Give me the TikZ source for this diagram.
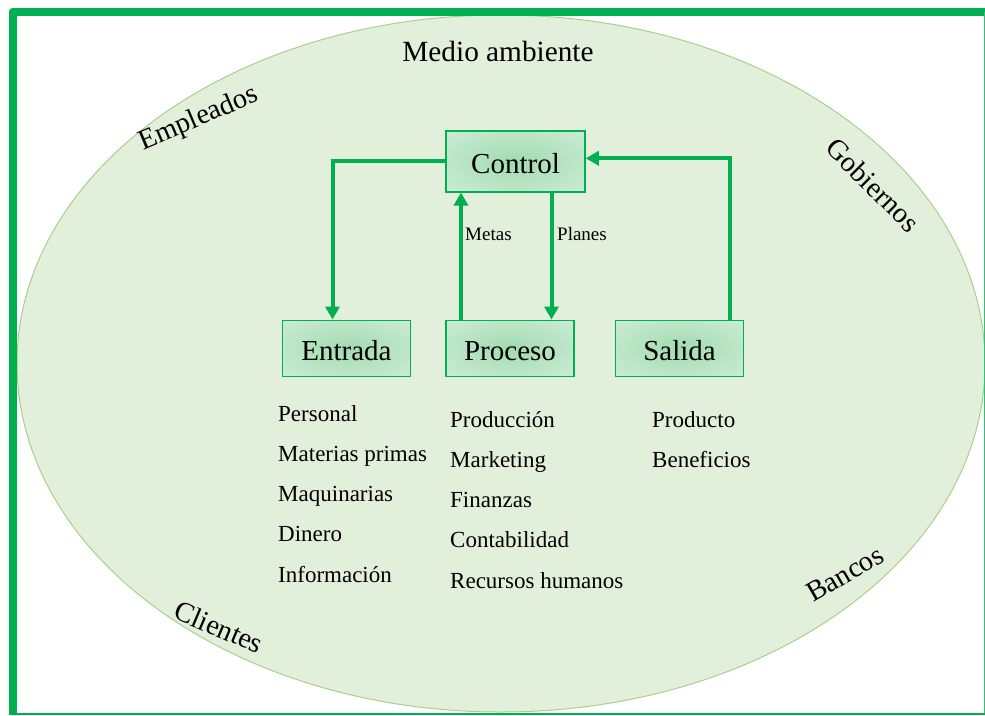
\documentclass[tikz,border=0pt]{standalone}
\usepackage{fontspec}
\setmainfont{Liberation Serif}
\usetikzlibrary{positioning,arrows.meta}
\definecolor{mygreen}{HTML}{00B050}
\definecolor{envfill}{HTML}{E2EFDA}
\definecolor{envline}{HTML}{A9D08E}
\definecolor{boxin}{HTML}{A2DBB0}
\definecolor{boxout}{HTML}{DCF3E4}
\pgfdeclareradialshading{boxshade}{\pgfpoint{0bp}{0bp}}{color(0bp)=(boxin); color(50bp)=(boxout)}

\begin{document}
\begin{tikzpicture}[x=1pt, y=-1pt,
		box/.style={rectangle, draw=mygreen, line width=1.5pt, shading=boxshade, minimum width=128pt, minimum height=56pt, text height=25pt, text depth=0pt, font=\fontsize{29}{34}\selectfont},
		item/.style={anchor=base west, inner sep=0pt, font=\fontsize{23}{27}\selectfont},
		tag/.style={anchor=base west, inner sep=0pt, font=\fontsize{19}{22}\selectfont},
		env/.style={font=\fontsize{28.5}{33}\selectfont}
	]
	\useasboundingbox (0,0) rectangle (985,715);
	% environment
	\draw[envline, fill=envfill, line width=1pt] (501,363.5) ellipse [x radius=484pt, y radius=348.5pt];
	\node[env, anchor=base, font=\fontsize{29.3}{34}\selectfont] (medio) at (498,61) {Medio ambiente};
	\node[env, rotate=23] (empleados) at (199,119) {Empleados};
	\node[env, rotate=-45] (gobiernos) at (873,185) {Gobiernos};
	\node[env, rotate=-23] (clientes) at (219,627) {Clientes};
	\node[env, rotate=30] (bancos) at (845,574) {Bancos};
	% system
	\node[box] (proceso) at (510,348.3) {Proceso};
	\node[box] (entrada) [left=34pt of proceso] {Entrada};
	\node[box] (salida) [right=40pt of proceso] {Salida};
	\node[box, minimum width=139pt, minimum height=61pt] (control) at (515.5,161.3) {Control};
	\begin{scope}[mygreen, line width=4pt, -{Triangle[width=14pt,length=13pt]}]
	\draw (control.west) -| ([xshift=-14pt]entrada.north);
	\draw ([xshift=-49pt]proceso.north) -- ([xshift=-49pt]proceso.north |- control.south);
	\draw ([xshift=36pt]control.south) -- ([xshift=36pt]control.south |- proceso.north);
	\draw ([xshift=50pt]salida.north) |- ([yshift=3pt]control.east);
	\end{scope}
	\node[tag] (metas) at (465,240) {Metas};
	\node[tag] (planes) at (557,240) {Planes};
	% lists
	\foreach \txt [count=\i] in {Personal, Materias primas, Maquinarias, Dinero, Información}
		\node[item] (in\i) at (278,{421+40.3*(\i-1)}) {\txt};
	\foreach \txt [count=\i] in {Producción, Marketing, Finanzas, Contabilidad, Recursos humanos}
		\node[item] (pr\i) at (450,{427+40.3*(\i-1)}) {\txt};
	\foreach \txt [count=\i] in {Producto, Beneficios}
		\node[item] (out\i) at (652,{427+40.3*(\i-1)}) {\txt};
	% frame
	\draw[mygreen, line width=8pt, line join=round] (12.5,715) -- (12.5,11.5) -- (985,11.5);
	\draw[mygreen!80, line width=1.2pt] (984.4,11.5) -- (984.4,715);
	\draw[mygreen, line width=2.5pt] (12.5,714) -- (985,714);
\end{tikzpicture}
\end{document}
